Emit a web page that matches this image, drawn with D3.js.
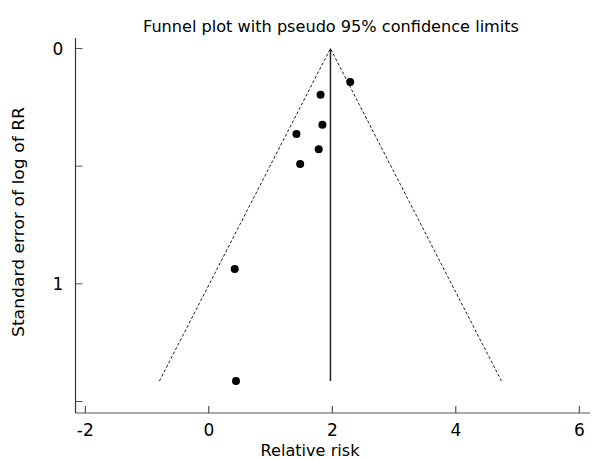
<!DOCTYPE html>
<html><head><meta charset="utf-8">
<script src="https://cdn.jsdelivr.net/npm/d3@7"></script>
<style>body{margin:0;background:#fff}svg{display:block}text{font-family:"DejaVu Sans",Verdana,sans-serif;fill:#000}</style>
</head><body><svg id="c" width="592" height="459"></svg>
<script>
// Study estimates: log relative risk and standard error
const logRR = [2.29, 1.81, 1.84, 1.42, 1.78, 1.48, 0.42, 0.44];
const seLogRR = [0.142, 0.196, 0.324, 0.363, 0.428, 0.491, 0.937, 1.413];
const pooled = [1.97];
const xTicks = [-2, 0, 2, 4, 6];
const yTicks = [0, 0.5, 1, 1.5];
const yTickLabels = ["0", "", "1", ""];
const titleText = ["Funnel plot with pseudo 95% confidence limits"];
const xLabel = ["Relative risk"];
const yLabel = ["Standard error of log of RR"];

const svg = d3.select("#c");
const x = d3.scaleLinear().domain([-2, 6]).range([85.3, 579.3]);
const y = d3.scaleLinear().domain([0, 1.5]).range([48.5, 401.5]);
const axisY = 413, axisX = 75.5;

// axes lines
svg.append("line").attr("x1", axisX).attr("x2", 590).attr("y1", axisY).attr("y2", axisY)
  .attr("stroke", "#555").attr("stroke-width", 1.2);
svg.append("line").attr("x1", axisX).attr("x2", axisX).attr("y1", 38).attr("y2", axisY)
  .attr("stroke", "#333").attr("stroke-width", 1.2);

// x ticks
const xa = svg.append("g");
xTicks.forEach(t => {
  xa.append("line").attr("x1", x(t)).attr("x2", x(t)).attr("y1", axisY).attr("y2", axisY - 7)
    .attr("stroke", "#333").attr("stroke-width", 1);
  xa.append("text").attr("x", x(t)).attr("y", 436).attr("text-anchor", "middle")
    .attr("font-size", 17).text(String(t));
});
// y ticks
yTicks.forEach((t, i) => {
  svg.append("line").attr("x1", axisX).attr("x2", axisX + 7).attr("y1", y(t)).attr("y2", y(t))
    .attr("stroke", "#555").attr("stroke-width", 1);
  if (yTickLabels[i]) svg.append("text").attr("x", 58).attr("y", y(t) + 6.5)
    .attr("text-anchor", "middle").attr("font-size", 17).text(yTickLabels[i]);
});

// funnel
const seMax = d3.max(seLogRR);
const c = pooled[0];
const funnel = [[c - 1.96 * seMax, seMax], [c, 0], [c + 1.96 * seMax, seMax]];
svg.append("path")
  .attr("d", d3.line().x(d => x(d[0])).y(d => y(d[1]))(funnel))
  .attr("fill", "none").attr("stroke", "#222").attr("stroke-width", 1)
  .attr("stroke-dasharray", "3,2");
svg.append("line").attr("x1", x(c)).attr("x2", x(c)).attr("y1", y(0)).attr("y2", y(seMax))
  .attr("stroke", "#222").attr("stroke-width", 1.5);

// points
svg.append("g").selectAll("circle").data(logRR).join("circle")
  .attr("cx", d => x(d)).attr("cy", (d, i) => y(seLogRR[i])).attr("r", 4).attr("fill", "#000");

// labels
svg.append("text").attr("x", 331).attr("y", 32).attr("text-anchor", "middle")
  .attr("font-size", 16).attr("textLength", 376).attr("lengthAdjust", "spacingAndGlyphs").text(titleText[0]);
svg.append("text").attr("x", 310).attr("y", 456).attr("text-anchor", "middle")
  .attr("font-size", 16).attr("textLength", 99).attr("lengthAdjust", "spacingAndGlyphs").text(xLabel[0]);
svg.append("text").attr("transform", "translate(24,222) rotate(-90)").attr("text-anchor", "middle")
  .attr("font-size", 16).attr("textLength", 230).attr("lengthAdjust", "spacingAndGlyphs").text(yLabel[0]);
</script></body></html>
